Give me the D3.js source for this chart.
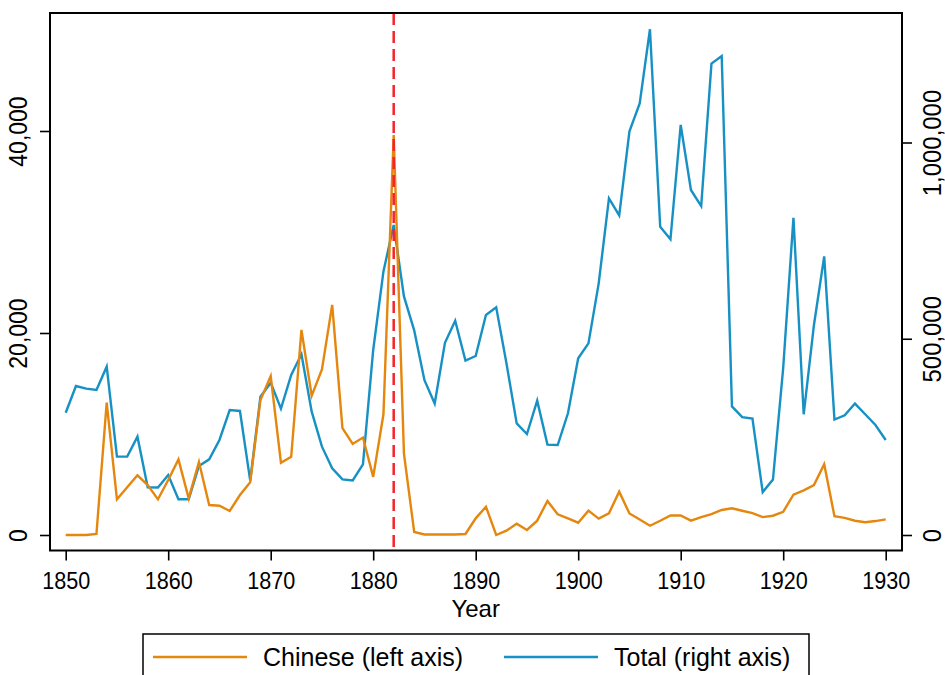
<!DOCTYPE html>
<html>
<head>
<meta charset="utf-8">
<script src="https://cdn.jsdelivr.net/npm/d3@7"></script>
<style>
  html, body { margin: 0; padding: 0; background: #fff; }
  svg { display: block; font-family: "Liberation Sans", Arial, sans-serif; }
</style>
</head>
<body>
<svg id="chart" width="945" height="675"></svg>
<script>
// Annual arrivals, 1850–1930
const years = d3.range(1850, 1931);

// Chinese arrivals (left axis)
const chinese = [
  0, 0, 0, 100, 13100, 3530, 4720, 5910, 4950, 3530,
  5445, 7490, 3630, 7230, 2970, 2900, 2380, 3960, 5210, 13370,
  15740, 7160, 7750, 20300, 13790, 16400, 22780, 10580, 9020, 9650,
  5760, 11950, 39600, 8060, 300, 50, 50, 50, 50, 100,
  1650, 2800, 0, 430, 1120, 500, 1420, 3370, 2050, 1650,
  1220, 2410, 1620, 2150, 4290, 2130, 1530, 920, 1410, 1930,
  1930, 1420, 1760, 2070, 2480, 2650, 2400, 2160, 1770, 1910,
  2300, 4000, 4420, 4950, 7000, 1870, 1700, 1410, 1270, 1380,
  1550
];

// Total arrivals (right axis)
const total = [
  311600, 379700, 372800, 369500, 428900, 199600, 199600, 250600, 121500, 121000,
  152900, 90900, 90900, 175800, 192800, 242100, 318500, 316000, 138400, 352400,
  388100, 321900, 407700, 460300, 314300, 225100, 169900, 141800, 139200, 180100,
  471400, 671600, 789900, 607900, 521300, 394400, 335000, 489800, 546000, 444200,
  456100, 560600, 580100, 437400, 284500, 257300, 342300, 230200, 229300, 310000,
  450100, 488300, 641200, 857800, 814500, 1028300, 1099300, 1288600, 785300, 753500,
  1044700, 879100, 838100, 1201100, 1220300, 327600, 300300, 296700, 109200, 141100,
  425900, 808100, 307600, 535100, 709800, 294000, 304800, 334900, 307600, 280300,
  242100
];

const xTicks = [1850, 1860, 1870, 1880, 1890, 1900, 1910, 1920, 1930];
const leftTicks = [0, 20000, 40000];
const rightTicks = [0, 500000, 1000000];
const markerYear = 1882;
const seriesNames = ["Chinese (left axis)", "Total (right axis)"];

const colors = { chinese: "#e5870e", total: "#1791c4", marker: "#f5232a" };

const svg = d3.select("#chart");
const frame = { left: 50, right: 902, top: 13, bottom: 550.5 };
const FONT = "'Liberation Sans', Arial, sans-serif";

const x = d3.scaleLinear().domain([1850, 1930]).range([65.7, 885.7]);
const yL = d3.scaleLinear().domain([0, 40000]).range([535, 131]);
const yR = d3.scaleLinear().domain([0, 1000000]).range([535, 142.5]);

const fmt = d3.format(",");

// Series lines
const lineL = d3.line().x((d, i) => x(years[i])).y(d => yL(d));
const lineR = d3.line().x((d, i) => x(years[i])).y(d => yR(d));

svg.append("path").datum(total)
  .attr("d", lineR).attr("fill", "none")
  .attr("stroke", colors.total).attr("stroke-width", 2.4)
  .attr("stroke-linejoin", "miter");

svg.append("path").datum(chinese)
  .attr("d", lineL).attr("fill", "none")
  .attr("stroke", colors.chinese).attr("stroke-width", 2.4)
  .attr("stroke-linejoin", "miter");

// Marker line for 1882
svg.append("line")
  .attr("x1", x(markerYear)).attr("x2", x(markerYear))
  .attr("y1", frame.top).attr("y2", frame.bottom)
  .attr("stroke", colors.marker).attr("stroke-width", 2.5)
  .attr("stroke-dasharray", "12,6");

// Plot frame
svg.append("rect")
  .attr("x", frame.left).attr("y", frame.top)
  .attr("width", frame.right - frame.left).attr("height", frame.bottom - frame.top)
  .attr("fill", "none").attr("stroke", "#000").attr("stroke-width", 2);

// Bottom axis
const gx = svg.append("g").attr("transform", `translate(0,${frame.bottom})`)
  .call(d3.axisBottom(x).tickValues(xTicks).tickFormat(d3.format("d"))
    .tickSize(10).tickPadding(12));
gx.select(".domain").remove();
gx.selectAll(".tick line").attr("stroke", "#000").attr("stroke-width", 1.6);
gx.selectAll(".tick text").attr("font-size", 24).attr("fill", "#000")
  .attr("font-family", FONT)
  .attr("y", null).attr("dy", null)
  .attr("transform", "translate(0,38.5) scale(0.9,1)");

// Left axis
const gl = svg.append("g").attr("transform", `translate(${frame.left},0)`)
  .call(d3.axisLeft(yL).tickValues(leftTicks).tickFormat(fmt).tickSize(10));
gl.select(".domain").remove();
gl.selectAll(".tick line").attr("stroke", "#000").attr("stroke-width", 1.6);
gl.selectAll(".tick text")
  .attr("font-size", 25).attr("fill", "#000")
  .attr("font-family", FONT)
  .attr("x", null).attr("dy", null)
  .attr("text-anchor", "middle")
  .attr("transform", "translate(-23,0) rotate(-90) scale(0.92,1)");

// Right axis
const gr = svg.append("g").attr("transform", `translate(${frame.right},0)`)
  .call(d3.axisRight(yR).tickValues(rightTicks).tickFormat(fmt).tickSize(10));
gr.select(".domain").remove();
gr.selectAll(".tick line").attr("stroke", "#000").attr("stroke-width", 1.6);
gr.selectAll(".tick text")
  .attr("font-size", 26).attr("fill", "#000")
  .attr("font-family", FONT)
  .attr("x", null).attr("dy", null)
  .attr("text-anchor", "middle")
  .attr("transform", "translate(39,0) rotate(-90) scale(0.92,1)");

// Axis title
svg.append("text")
  .attr("x", x(1890)).attr("y", 617)
  .attr("text-anchor", "middle").attr("font-size", 24).attr("fill", "#000")
  .text("Year");

// Legend
const legend = svg.append("g");
legend.append("rect")
  .attr("x", 143).attr("y", 634).attr("width", 666).attr("height", 60)
  .attr("fill", "#fff").attr("stroke", "#000").attr("stroke-width", 1.5);

const legendItems = [
  { name: seriesNames[0], color: colors.chinese, x0: 153 },
  { name: seriesNames[1], color: colors.total, x0: 504 }
];
legendItems.forEach(it => {
  legend.append("line")
    .attr("x1", it.x0).attr("x2", it.x0 + 94)
    .attr("y1", 657).attr("y2", 657)
    .attr("stroke", it.color).attr("stroke-width", 2.4);
  legend.append("text")
    .attr("x", it.x0 + 110).attr("y", 666)
    .attr("font-size", 25).attr("fill", "#000")
    .text(it.name);
});
</script>
</body>
</html>
